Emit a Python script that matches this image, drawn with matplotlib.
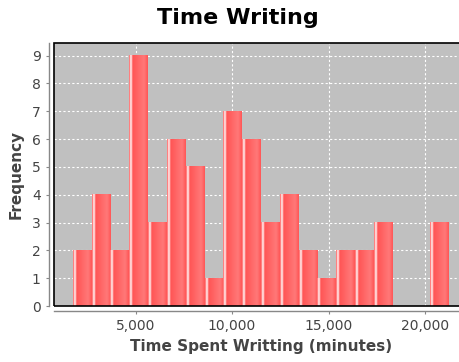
import numpy as np
import matplotlib
matplotlib.use("Agg")
import matplotlib.pyplot as plt
from matplotlib.colors import LinearSegmentedColormap
from matplotlib.patches import Rectangle
from matplotlib.ticker import FuncFormatter

# histogram bins (minutes) and counts
bin_edges = [1750, 2725, 3700, 4675, 5650, 6625, 7600, 8575, 9550, 10525, 11500,
             12475, 13450, 14425, 15400, 16375, 17350, 18325, 19300, 20275, 21250]
counts = [2, 4, 2, 9, 3, 6, 5, 1, 7, 6, 3, 4, 2, 1, 2, 2, 3, 0, 0, 3]
x_ticks = [5000, 10000, 15000, 20000]
y_ticks = [0, 1, 2, 3, 4, 5, 6, 7, 8, 9]

base = (1.0, 85 / 255, 85 / 255)
bright = (1.0, 121 / 255, 121 / 255)
bar_cmap = LinearSegmentedColormap.from_list(
    "bar", [(0.0, base), (0.1, (1, 1, 1)), (0.2, base), (0.8, bright), (1.0, base)])
text_col = "#444444"

fig = plt.figure(figsize=(4.6, 3.62), dpi=100)
ax = fig.add_axes([54 / 460, 56 / 362, 414 / 460, 263 / 362])
ax.set_facecolor("#c0c0c0")

# grid first, bars painted over it
ax.grid(True, color="white", linestyle=(0, (2, 2)), linewidth=0.8, zorder=0.5)
ax.set_axisbelow(True)

grad = np.linspace(0, 1, 200).reshape(1, -1)
for left, right, c in zip(bin_edges[:-1], bin_edges[1:], counts):
    if c == 0:
        continue
    ax.imshow(grad, cmap=bar_cmap, extent=[left, right, 0, c], aspect="auto",
              interpolation="bilinear", zorder=3)

span = bin_edges[-1] - bin_edges[0]
ax.set_xlim(bin_edges[0] - 0.05 * span, bin_edges[-1] + 0.05 * span)
ax.set_ylim(0, max(counts) * 1.05)

ax.set_xticks(x_ticks)
ax.set_yticks(y_ticks)
ax.xaxis.set_major_formatter(FuncFormatter(lambda v, p: f"{int(v):,}"))

for s in ["top", "right"]:
    ax.spines[s].set_visible(False)
for s in ["left", "bottom"]:
    ax.spines[s].set_position(("outward", 3.6))
    ax.spines[s].set_color("#888888")
    ax.spines[s].set_linewidth(1.0)
ax.tick_params(colors="#888888", labelcolor=text_col, labelsize=10, length=2.5, width=0.8)

ax.add_patch(Rectangle((0, 0), 1, 1, transform=ax.transAxes, fill=False,
                       edgecolor="black", linewidth=1.2, zorder=5, clip_on=False))

ax.set_xlabel("Time Spent Writting (minutes)", fontsize=11, fontweight="bold",
              color=text_col, labelpad=4)
ax.set_ylabel("Frequency", fontsize=11, fontweight="bold", color=text_col, labelpad=6)
fig.text(237.5 / 460, 1 - 18 / 362, "Time Writing", ha="center", va="center",
         fontsize=16, fontweight="bold", color="black")

fig.savefig("out.png", dpi=100)
